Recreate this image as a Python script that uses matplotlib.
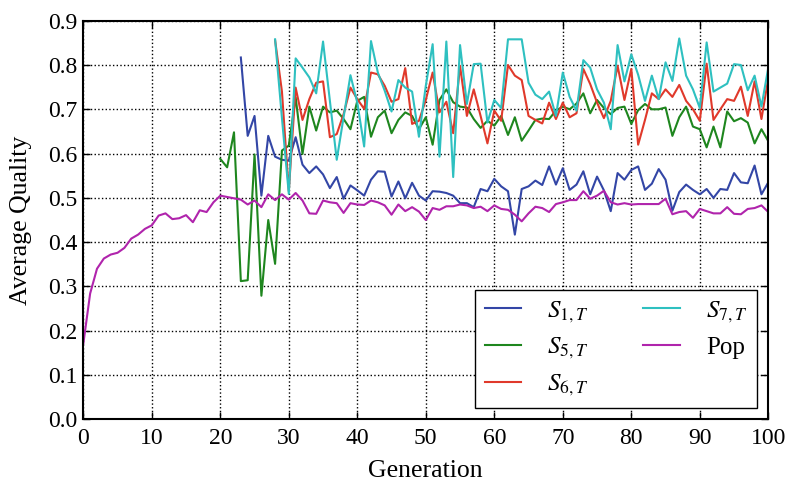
import numpy as np
import matplotlib
matplotlib.use("Agg")
import matplotlib.pyplot as plt

plt.rcParams["font.family"] = ["Liberation Serif", "DejaVu Serif"]
plt.rcParams["mathtext.fontset"] = "stix"

# Population average quality, generations 0..100
pop = [0.17, 0.284, 0.34, 0.363, 0.372, 0.376, 0.387, 0.408, 0.417, 0.43,
       0.438, 0.46, 0.465, 0.452, 0.454, 0.461, 0.445, 0.472, 0.468, 0.49,
       0.505, 0.502, 0.499, 0.496, 0.485, 0.494, 0.479, 0.508, 0.495, 0.508,
       0.496, 0.511, 0.494, 0.465, 0.464, 0.494, 0.49, 0.488, 0.466, 0.488,
       0.485, 0.484, 0.494, 0.49, 0.483, 0.462, 0.485, 0.47, 0.479, 0.469,
       0.45, 0.477, 0.473, 0.481, 0.481, 0.485, 0.483, 0.477, 0.48, 0.47,
       0.483, 0.475, 0.473, 0.462, 0.447, 0.465, 0.48, 0.477, 0.468, 0.486,
       0.49, 0.495, 0.495, 0.515, 0.498, 0.505, 0.516, 0.49, 0.485, 0.488,
       0.485, 0.486, 0.486, 0.486, 0.486, 0.498, 0.463, 0.468, 0.47, 0.455,
       0.475, 0.47, 0.465, 0.465, 0.479, 0.464, 0.463, 0.475, 0.477, 0.483,
       0.468]

# S_{5,T}, generations 20..100
s5_start = 20
s5 = [0.588, 0.569, 0.648, 0.312, 0.314, 0.598, 0.279, 0.45, 0.351, 0.607,
      0.618, 0.727, 0.599, 0.706, 0.652, 0.706, 0.693, 0.697, 0.678, 0.655,
      0.719, 0.728, 0.638, 0.682, 0.697, 0.646, 0.676, 0.693, 0.685, 0.655,
      0.682, 0.62, 0.721, 0.745, 0.716, 0.706, 0.704, 0.678, 0.658, 0.674,
      0.663, 0.685, 0.642, 0.682, 0.629, 0.652, 0.676, 0.679, 0.678, 0.697,
      0.706, 0.7, 0.713, 0.736, 0.691, 0.721, 0.703, 0.689, 0.703, 0.706,
      0.667, 0.698, 0.712, 0.7, 0.7, 0.704, 0.64, 0.682, 0.706, 0.661,
      0.655, 0.614, 0.661, 0.614, 0.695, 0.673, 0.68, 0.67, 0.623, 0.655,
      0.628]

# S_{1,T}, generations 23..100
s1_start = 23
s1 = [0.817, 0.64, 0.685, 0.505, 0.64, 0.593, 0.586, 0.584, 0.637, 0.575,
      0.556, 0.571, 0.553, 0.522, 0.547, 0.498, 0.528, 0.517, 0.505, 0.541,
      0.56, 0.559, 0.503, 0.537, 0.499, 0.534, 0.505, 0.494, 0.515, 0.514,
      0.511, 0.505, 0.488, 0.488, 0.479, 0.52, 0.515, 0.543, 0.526, 0.515,
      0.417, 0.52, 0.526, 0.539, 0.529, 0.571, 0.53, 0.567, 0.518, 0.53,
      0.56, 0.508, 0.548, 0.517, 0.47, 0.556, 0.541, 0.563, 0.571, 0.518,
      0.532, 0.565, 0.541, 0.471, 0.513, 0.53, 0.518, 0.508, 0.52, 0.5,
      0.52, 0.518, 0.556, 0.535, 0.533, 0.573, 0.508, 0.535]

# S_{6,T}, generations 28..100
s6_start = 28
s6 = [0.856, 0.74, 0.515, 0.749, 0.676, 0.723, 0.76, 0.763, 0.637, 0.644,
      0.689, 0.749, 0.723, 0.701, 0.783, 0.779, 0.753, 0.717, 0.723, 0.793,
      0.667, 0.674, 0.721, 0.783, 0.693, 0.717, 0.646, 0.798, 0.685, 0.745,
      0.685, 0.623, 0.697, 0.674, 0.8, 0.776, 0.766, 0.685, 0.676, 0.668,
      0.715, 0.678, 0.715, 0.682, 0.691, 0.791, 0.757, 0.715, 0.68, 0.719,
      0.798, 0.721, 0.791, 0.62, 0.676, 0.736, 0.723, 0.745, 0.728, 0.755,
      0.719, 0.7, 0.674, 0.803, 0.676, 0.7, 0.723, 0.719, 0.751, 0.685,
      0.763, 0.678, 0.77]

# S_{7,T}, generations 28..100
s7_start = 28
s7 = [0.858, 0.68, 0.509, 0.815, 0.794, 0.772, 0.736, 0.853, 0.719, 0.586,
      0.682, 0.777, 0.715, 0.616, 0.854, 0.783, 0.742, 0.695, 0.766, 0.749,
      0.74, 0.638, 0.753, 0.847, 0.593, 0.853, 0.547, 0.845, 0.712, 0.802,
      0.803, 0.67, 0.721, 0.703, 0.858, 0.858, 0.858, 0.76, 0.733, 0.723,
      0.74, 0.685, 0.783, 0.728, 0.697, 0.811, 0.794, 0.745, 0.715, 0.655,
      0.845, 0.763, 0.824, 0.778, 0.719, 0.776, 0.723, 0.806, 0.764, 0.86,
      0.776, 0.745, 0.703, 0.851, 0.74, 0.749, 0.758, 0.802, 0.8, 0.743,
      0.776, 0.706, 0.794]

x_ticks = [0, 10, 20, 30, 40, 50, 60, 70, 80, 90, 100]
y_ticks = [0.0, 0.1, 0.2, 0.3, 0.4, 0.5, 0.6, 0.7, 0.8, 0.9]

fig = plt.figure(figsize=(7.91, 4.83), dpi=100)
ax = fig.add_axes([0.1053, 0.1319, 0.8660, 0.8252])

lw = 1.5
def gens(start, vals):
    return np.arange(start, start + len(vals))

ax.plot(gens(s1_start, s1), s1, color="#3346a6", lw=lw, label=r"$S_{1,T}$")
ax.plot(gens(s5_start, s5), s5, color="#1e861e", lw=lw, label=r"$S_{5,T}$")
ax.plot(gens(s6_start, s6), s6, color="#e0392b", lw=lw, label=r"$S_{6,T}$")
ax.plot(gens(s7_start, s7), s7, color="#2ec0c0", lw=lw, label=r"$S_{7,T}$")
ax.plot(np.arange(len(pop)), pop, color="#b024ac", lw=lw, label="Pop")

ax.set_xlim(0, 100)
ax.set_ylim(0, 0.9)
ax.set_xticks(x_ticks)
ax.set_yticks(y_ticks)
ax.set_yticklabels([f"{v:.1f}" for v in y_ticks])
ax.tick_params(direction="in", top=True, right=True, labelsize=17,
               length=5, width=1)
ax.tick_params(axis="x", pad=6)
ax.tick_params(axis="y", pad=4)
ax.grid(True, linestyle=":", color="k", lw=1.0)
for sp in ax.spines.values():
    sp.set_linewidth(1.5)

ax.set_xlabel("Generation", fontsize=18.5, labelpad=8)
ax.set_ylabel("Average Quality", fontsize=18.5, labelpad=12)

leg = ax.legend(loc="lower right", ncol=2, fontsize=18, fancybox=False,
                framealpha=1, edgecolor="k", handlelength=1.45,
                handletextpad=1.05, columnspacing=2.2, borderaxespad=0.45,
                labelspacing=0.45)
leg.get_frame().set_linewidth(1.0)

fig.savefig("out.png", dpi=100)
